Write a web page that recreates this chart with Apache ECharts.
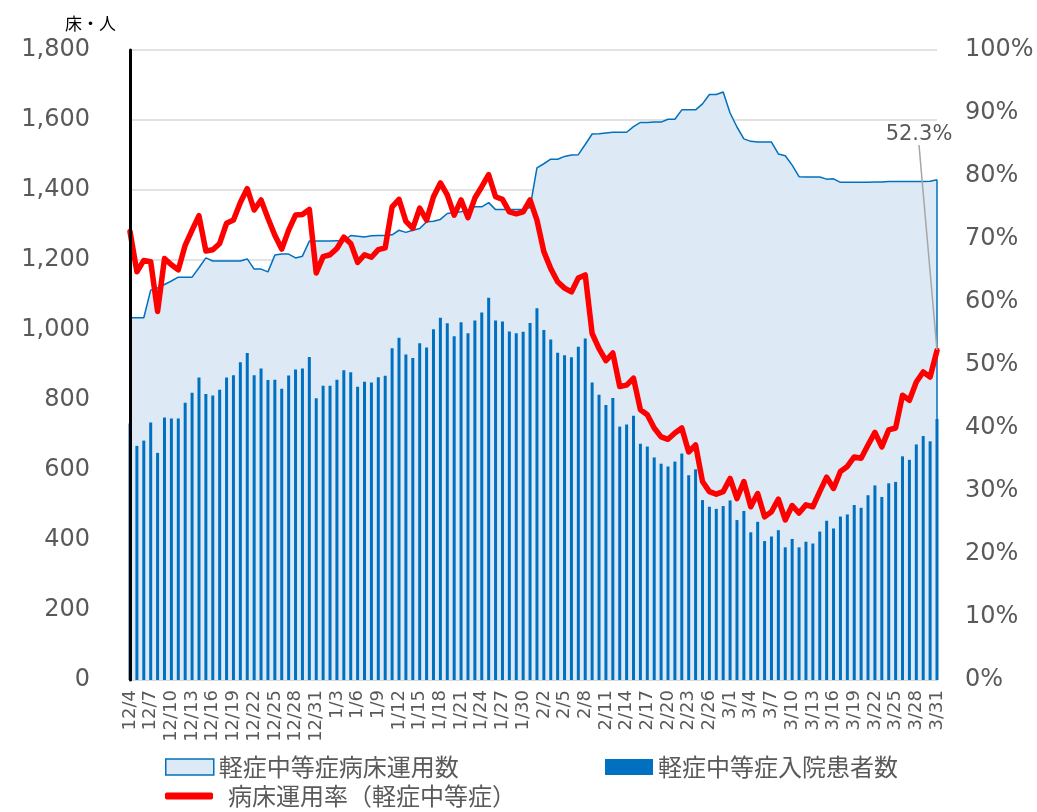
<!DOCTYPE html>
<html>
<head>
<meta charset="utf-8">
<script src="https://cdn.jsdelivr.net/npm/echarts@6/dist/echarts.min.js"></script>
<style>
html,body{margin:0;padding:0;background:#fff;}
#main{width:1037px;height:812px;}
</style>
</head>
<body>
<div id="main"></div>
<script>
// 日付（12/4〜3/31）
var days = [
  '12/4','12/5','12/6','12/7','12/8','12/9','12/10','12/11','12/12','12/13','12/14','12/15','12/16','12/17',
  '12/18','12/19','12/20','12/21','12/22','12/23','12/24','12/25','12/26','12/27','12/28','12/29','12/30','12/31',
  '1/1','1/2','1/3','1/4','1/5','1/6','1/7','1/8','1/9','1/10','1/11','1/12','1/13','1/14','1/15','1/16',
  '1/17','1/18','1/19','1/20','1/21','1/22','1/23','1/24','1/25','1/26','1/27','1/28','1/29','1/30','1/31',
  '2/1','2/2','2/3','2/4','2/5','2/6','2/7','2/8','2/9','2/10','2/11','2/12','2/13','2/14',
  '2/15','2/16','2/17','2/18','2/19','2/20','2/21','2/22','2/23','2/24','2/25','2/26','2/27','2/28',
  '3/1','3/2','3/3','3/4','3/5','3/6','3/7','3/8','3/9','3/10','3/11','3/12','3/13','3/14','3/15','3/16',
  '3/17','3/18','3/19','3/20','3/21','3/22','3/23','3/24','3/25','3/26','3/27','3/28','3/29','3/30','3/31'
];
// 軽症中等症病床運用数
var beds = [
  1035,1035,1035,1114,1120,1130,1140,1151,1151,1151,
  1178,1206,1197,1197,1197,1197,1197,1203,1174,1174,
  1166,1214,1217,1217,1206,1211,1254,1254,1254,1254,
  1255,1255,1270,1268,1266,1269,1270,1270,1272,1285,
  1279,1285,1290,1309,1311,1316,1333,1336,1338,1343,
  1352,1352,1364,1344,1344,1344,1344,1344,1350,1463,
  1475,1488,1488,1496,1500,1501,1530,1560,1561,1563,
  1565,1565,1565,1581,1593,1593,1594,1594,1602,1602,
  1629,1629,1629,1646,1673,1673,1680,1620,1580,1546,
  1539,1537,1537,1537,1503,1498,1471,1438,1437,1437,
  1437,1431,1432,1422,1422,1422,1422,1422,1423,1423,
  1424,1424,1424,1424,1424,1424,1425,1429
];
// 軽症中等症入院患者数
var patients = [
  733,669,684,736,649,750,747,747,792,821,
  864,817,813,829,864,871,908,934,871,890,
  857,858,832,870,887,890,923,805,841,841,
  858,885,879,838,852,850,865,869,948,978,
  930,920,962,950,1002,1035,1019,982,1022,991,
  1027,1050,1092,1027,1024,996,991,995,1020,1062,
  1000,973,935,928,922,952,976,850,815,786,
  806,724,730,755,675,667,636,618,610,624,
  647,585,602,514,495,489,497,513,457,483,
  422,452,397,410,428,379,403,379,395,390,
  424,455,433,467,473,500,492,528,556,523,
  562,566,639,629,673,697,682,746
];
// 病床運用率（%）
var rate = [
  71.2,64.8,66.6,66.4,58.5,66.9,65.9,65.1,69.0,71.4,
  73.7,68.1,68.3,69.3,72.5,73.0,75.8,78.0,74.6,76.2,
  73.3,70.6,68.4,71.4,73.8,73.9,74.7,64.6,67.2,67.5,
  68.5,70.3,69.3,66.3,67.5,67.1,68.3,68.6,75.1,76.3,
  72.8,71.7,74.9,73.0,76.7,78.9,77.0,73.8,76.2,73.4,
  76.5,78.3,80.2,76.7,76.3,74.3,74.0,74.3,76.2,73.0,
  68.0,65.3,63.2,62.2,61.6,63.8,64.3,55.0,52.6,50.7,
  51.9,46.6,46.8,47.9,42.9,42.1,40.0,38.6,38.2,39.2,
  40.0,36.2,37.3,31.5,29.9,29.5,29.9,32.0,28.8,31.5,
  27.5,29.6,25.9,26.7,28.7,25.4,27.7,26.5,27.8,27.5,
  29.9,32.2,30.4,33.1,33.9,35.4,35.2,37.3,39.3,37.0,
  39.7,40.0,45.2,44.4,47.3,48.9,48.1,52.3
];
var names = ['軽症中等症病床運用数','軽症中等症入院患者数','病床運用率（軽症中等症）'];

var last = days.length - 1;
var grey = '#595959';
var numFont = 'DejaVu Sans';
var jpFont = 'Noto Sans CJK JP';

// 最終日だけラベル表示
var rateData = rate.map(function(v, i){
  if (i !== last) return v;
  return {value: v, symbol: 'circle', symbolSize: 1, label: {show: true}};
});

var chart = echarts.init(document.getElementById('main'));
chart.setOption({
  animation: false,
  grid: {left: 130, right: 100, top: 50, bottom: 132},
  legend: [
    {left: 160, top: 750, itemWidth: 48, itemHeight: 16, itemGap: 0,
     textStyle: {fontSize: 24, color: grey, fontFamily: jpFont},
     data: [{name: names[0], icon: 'rect', itemStyle: {color: '#dde9f5', borderColor: '#0070c0', borderWidth: 1.5}}]},
    {left: 600, top: 750, itemWidth: 48, itemHeight: 16, itemGap: 0,
     textStyle: {fontSize: 24, color: grey, fontFamily: jpFont},
     data: [{name: names[1], icon: 'rect'}]},
    {left: 160, top: 779, itemWidth: 48, itemHeight: 7, itemGap: 0,
     textStyle: {fontSize: 24, color: grey, fontFamily: jpFont, padding: [0, 0, 0, 10]},
     data: [{name: names[2], icon: 'roundRect', itemStyle: {color: '#ff0000'}}]}
  ],
  xAxis: {
    type: 'category',
    data: days,
    boundaryGap: false,
    axisTick: {show: false},
    axisLine: {lineStyle: {color: '#d9d9d9', width: 2}},
    axisLabel: {rotate: 90, interval: 2, fontSize: 18, color: grey, fontFamily: numFont, margin: 10}
  },
  yAxis: [
    {
      type: 'value', min: 0, max: 1800, interval: 200,
      name: '床・人', nameLocation: 'end', nameGap: 18,
      nameTextStyle: {fontSize: 17, color: '#000', fontFamily: jpFont, align: 'right', padding: [0, 14, 0, 0]},
      axisLine: {show: false},
      axisTick: {show: false},
      splitLine: {lineStyle: {color: '#d9d9d9', width: 1.5}},
      axisLabel: {fontSize: 24, color: grey, fontFamily: numFont, margin: 40,
        formatter: function(v){ return v.toLocaleString('en-US'); }}
    },
    {
      type: 'value', min: 0, max: 100, interval: 10,
      axisLine: {show: false},
      axisTick: {show: false},
      splitLine: {show: false},
      axisLabel: {fontSize: 24, color: grey, fontFamily: numFont, margin: 28, formatter: '{value}%'}
    },
    {
      // 左側の黒い軸線（面の上に描く）
      type: 'value', position: 'left', min: 0, max: 1800, interval: 200, z: 10,
      axisLine: {show: true, lineStyle: {color: '#000', width: 3}},
      axisTick: {show: false},
      axisLabel: {show: false},
      splitLine: {show: false}
    }
  ],
  series: [
    {
      name: names[0], type: 'line', data: beds, yAxisIndex: 0,
      symbol: 'none', silent: true, z: 1,
      lineStyle: {color: '#0070c0', width: 1.5},
      itemStyle: {color: '#0070c0'},
      areaStyle: {color: '#dde9f5', opacity: 1},
      markLine: {   // 面グラフの両端の縦線
        silent: true, symbol: ['none', 'none'], label: {show: false},
        lineStyle: {color: '#0070c0', width: 1.5, type: 'solid'},
        data: [
          [{coord: [days[0], 0]}, {coord: [days[0], beds[0]]}],
          [{coord: [days[last], 0]}, {coord: [days[last], beds[last]]}]
        ]
      }
    },
    {
      name: names[1], type: 'bar', data: patients, yAxisIndex: 0,
      barWidth: 3, silent: true, z: 3,
      itemStyle: {color: '#0070c0'}
    },
    {
      name: names[2], type: 'line', data: rateData, yAxisIndex: 1,
      symbol: 'none', showAllSymbol: true, silent: true, z: 5,
      lineStyle: {color: '#ff0000', width: 5.5, join: 'round', cap: 'round'},
      itemStyle: {color: '#ff0000'},
      label: {position: 'top', fontSize: 21, color: grey, fontFamily: numFont,
        formatter: function(p){ return p.value.toFixed(1) + '%'; }},
      labelLine: {show: true, lineStyle: {color: '#a6a6a6', width: 1.5}},
      labelLayout: {dx: -18, dy: -200}
    }
  ]
});
</script>
</body>
</html>
